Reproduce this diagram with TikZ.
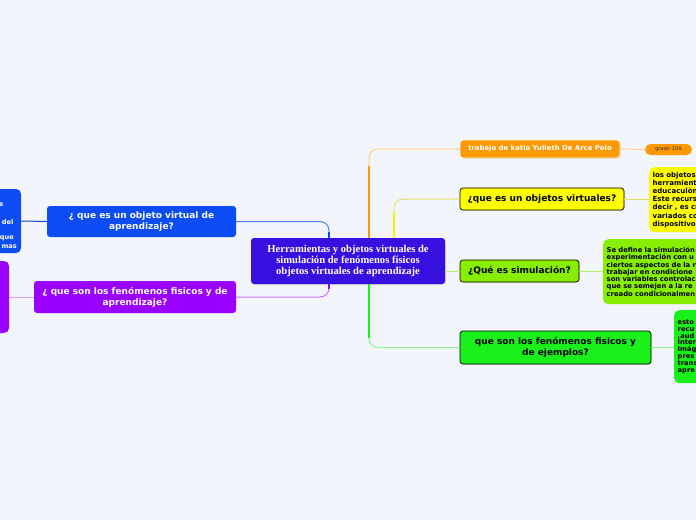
\documentclass[tikz,border=0pt]{standalone}
\usepackage{fontspec}
\setmainfont{Liberation Serif}
\newfontfamily\dvs{DejaVu Sans}
\usetikzlibrary{shadows,calc}
\definecolor{bg}{HTML}{F2F5FC}
\definecolor{cmain}{HTML}{3510DE}
\definecolor{cblue}{HTML}{0B4CF5}
\definecolor{cdblue}{HTML}{1A3FD0}
\definecolor{cpurple}{HTML}{9A00FF}
\definecolor{corange}{HTML}{FF9900}
\definecolor{cyellow}{HTML}{FFFF00}
\definecolor{clgreen}{HTML}{88EE00}
\definecolor{cgreen}{HTML}{1AF01A}
\tikzset{
  mm/.style={rounded corners=3pt, align=center, inner sep=0pt, text=white,
    font=\dvs\bfseries\fontsize{9}{11}\selectfont},
  sub/.style={mm, draw=black, line width=0.7pt, text=black,
    drop shadow={opacity=0.25, shadow xshift=0.8pt, shadow yshift=-0.8pt}},
  note/.style={anchor=north west, rounded corners=5pt, align=left, inner xsep=3.5pt,
    inner ysep=0pt, text width=140pt, text=black, font=\dvs\bfseries},
  frag/.style={anchor=east, inner sep=0pt, text=white, font=\dvs\bfseries\fontsize{6.6}{8}\selectfont},
  link/.style={line width=1pt, rounded corners=9pt}
}
\begin{document}
\begin{tikzpicture}[x=1pt,y=-1pt]
\fill[bg] (0,0) rectangle (696,520);
\useasboundingbox (0,0) rectangle (696,520);
\clip (0,0) rectangle (696,520);

% central
\node[mm, fill=cmain, minimum width=194, minimum height=46,
  font=\bfseries\fontsize{10.6}{10.6}\selectfont,
  drop shadow={opacity=0.25, shadow xshift=0.8pt, shadow yshift=-0.8pt}]
  (central) at (348,261) {Herramientas y objetos virtuales de\\simulación de fenómenos físicos\\objetos virtuales de aprendizaje};

% left side
\node[mm, fill=cblue, minimum width=189, minimum height=31] (blue) at (141.5,221.5)
  {¿ que es un objeto virtual de\\aprendizaje?};
\node[mm, fill=cpurple, minimum width=202, minimum height=32] (purple) at (135,297)
  {¿ que son los fenómenos fisicos y de\\aprendizaje?};
\node[mm, fill=cblue, minimum width=31, minimum height=64, rounded corners=5pt] (lblue) at (5.5,221) {};
\node[mm, fill=cpurple, minimum width=19, minimum height=72, rounded corners=5pt] (lpurple) at (-0.5,297) {};
\node[frag] (fa) at (3.5,205) {e};
\node[frag] (fb) at (13.5,222) {del};
\node[frag] (fc) at (14,238) {que};
\node[frag] (fd) at (17,246.5) {mas};

% right side
\node[mm, fill=corange, draw=white, line width=0.8pt, minimum width=160, minimum height=18,
  font=\dvs\bfseries\fontsize{6.9}{8}\selectfont,
  drop shadow={opacity=0.3, shadow xshift=0.8pt, shadow yshift=-0.8pt}]
  (orange) at (540,149) {trabajo de katia Yulleth De Arce Polo};
\node[mm, fill=corange, minimum width=47, minimum height=11, rounded corners=5.5pt,
  text=black!80, font=\dvs\fontsize{5.2}{6}\selectfont] (grado) at (668.5,149.5) {grado 10A};

\node[sub, fill=cyellow, minimum width=164, minimum height=22] (yellow) at (542,199)
  {¿que es un objetos virtuales?};
\node[note, fill=cyellow, minimum height=65, font=\dvs\bfseries\fontsize{7}{8.2}\selectfont]
  (ynote) at (649,167)
  {los objetos\\herramient\\educaculòn\\Este recurs\\decir , es cr\\variados co\\dispositivos};

\node[sub, fill=clgreen, minimum width=119, minimum height=22] (lgreen) at (519.5,271)
  {¿Qué es simulación?};
\node[note, fill=clgreen, minimum height=65, font=\dvs\bfseries\fontsize{6.8}{7.3}\selectfont]
  (lgnote) at (603,239)
  {Se define la simulación\\experimentación con u\\ciertos aspectos de la r\\trabajar en condicione\\son variables controlac\\que se semejen a la re\\creado condicionalmen};

\node[sub, fill=cgreen, minimum width=191, minimum height=33] (green) at (555.5,347.5)
  {que son los fenómenos fisicos y\\de ejemplos?};
\node[note, fill=cgreen, minimum height=73, font=\dvs\bfseries\fontsize{6.7}{6.9}\selectfont]
  (gnote) at (674,310)
  {esto\\recu\\,aud\\Inter\\Imág\\pres\\trans\\apre};

% connectors left
\draw[link, color=cblue!70] ([xshift=-19pt]central.north) |- (blue.east);
\draw[color=cblue, line width=1.5pt] ([xshift=-19pt]central.north) -- ++(0,-6);
\draw[link, color=cpurple!55] ([xshift=-19pt]central.south) |- (purple.east);
\draw[color=cpurple, line width=1.5pt] ([xshift=-19pt]central.south) -- ++(0,5);
\draw[line width=1pt, color=cdblue] (lblue.east) -- (blue.west);
\draw[line width=1pt, color=cpurple!40] (lpurple.east) -- (purple.west);

% connectors right
\draw[link, color=corange!45] ([xshift=21pt]central.north) |- (orange.west);
\draw[color=corange, line width=2pt] ([xshift=21pt]central.north) -- ++(0,-72);
\draw[link, color=cyellow!80!black!60] ([xshift=46pt]central.north) |- (yellow.west);
\draw[color=cyellow!95!black, line width=2pt] ([xshift=46pt]central.north) -- ++(0,-26);
\draw[line width=1pt, color=clgreen!60] (central.east |- lgreen.west) -- (lgreen.west);
\draw[link, color=cgreen!50] ([xshift=21pt]central.south) |- (green.west);
\draw[color=cgreen, line width=2pt] ([xshift=21pt]central.south) -- ++(0,54);

\draw[line width=1pt, color=corange!45] (orange.east) -- (grado.west);
\draw[line width=1pt, color=cyellow!80!black!60] (yellow.east) -- (yellow.east -| ynote.west);
\draw[line width=1pt, color=clgreen!60] (lgreen.east) -- (lgreen.east -| lgnote.west);
\draw[line width=1pt, color=cgreen!50] (green.east) -- (green.east -| gnote.west);
\end{tikzpicture}
\end{document}
